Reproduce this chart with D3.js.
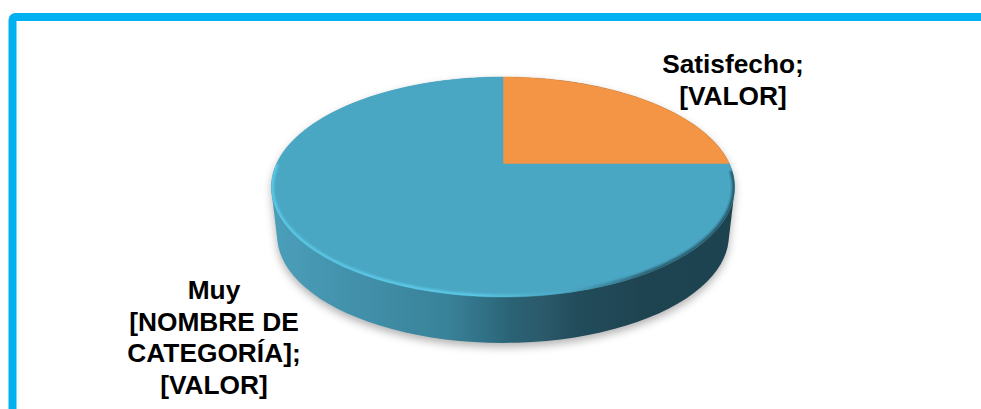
<!DOCTYPE html>
<html lang="es">
<head>
<meta charset="utf-8">
<script src="https://cdn.jsdelivr.net/npm/d3@7"></script>
<style>
  html, body { margin: 0; padding: 0; background: #fff; overflow: hidden; }
  svg { display: block; }
  text { font-family: "Liberation Sans", Arial, sans-serif; font-weight: 700; font-size: 26.3px; fill: #000; text-anchor: middle; }
</style>
</head>
<body>
<script>
// Share of responses per category, clockwise from twelve o'clock
const categories = ["Satisfecho", "Muy satisfecho"];
const shares = [25, 75];
const sliceColors = ["#f39545", "#4aa7c4"];
const labelLines = [
  ["Satisfecho;", "[VALOR]"],
  ["Muy", "[NOMBRE DE", "CATEGORÍA];", "[VALOR]"]
];

const width = 981, height = 409;
const svg = d3.select("body").append("svg").attr("width", width).attr("height", height);
const defs = svg.append("defs");

// Tilted disc: the pie's centre, its top, bottom and side reach, and the wall
const centre = { x: 503, y: 164 };
const reach = { up: 87, down: 133, side: 226.5 };
const discMidY = 187;
const wallDrop = 48.7, wallTaper = 0.975;
const tilt = (reach.down - reach.up) / (reach.down + reach.up);
const lift = reach.up * (1 + tilt);

// Perspective projection of a unit-circle angle (0 = up, clockwise)
function project(angle) {
  const u = Math.sin(angle), v = Math.cos(angle), w = 1 + tilt * v;
  return [centre.x + reach.side * u / w, centre.y - lift * v / w];
}
const sampleArc = (a0, a1) => d3.range(0, 121).map(i => project(a0 + (a1 - a0) * i / 120));
const line = d3.line();

const pie = d3.pie().sort(null).value(d => d)(shares);
const rim = sampleArc(0, 2 * Math.PI);

// The lower rim sits further from the eye, so it is drawn slightly smaller
const lowerRim = rim.map(([x, y]) => [
  centre.x + (x - centre.x) * wallTaper,
  discMidY + (y - discMidY) * wallTaper + wallDrop
]);
const wallPath = line(d3.polygonHull(rim.concat(lowerRim))) + "Z";

// Wall shading runs from light on the left to dark on the right
const wallStops = [
  [0, "#4b9fba"], [0.2, "#418fa9"], [0.38, "#398299"], [0.47, "#2f6e83"],
  [0.52, "#2a6274"], [0.58, "#2b5b6c"], [0.66, "#224c5b"], [0.8, "#1f4451"], [1, "#1e4350"]
];
const wallGrad = defs.append("linearGradient").attr("id", "wall-shade");
wallGrad.selectAll("stop").data(wallStops).join("stop")
  .attr("offset", d => d[0]).attr("stop-color", d => d[1]);

// Bevel highlight fades out along the front of the rim
const bevelGrad = defs.append("linearGradient").attr("id", "bevel-shade");
bevelGrad.selectAll("stop").data([
  [0, "#5cc9e6", 1], [0.45, "#5cc9e6", 1], [0.62, "#4fb0cc", 0.5], [0.8, "#25505f", 0.8], [1, "#25505f", 0.9]
]).join("stop")
  .attr("offset", d => d[0]).attr("stop-color", d => d[1]).attr("stop-opacity", d => d[2]);

defs.append("filter").attr("id", "soft-shadow")
  .attr("x", "-10%").attr("y", "-10%").attr("width", "120%").attr("height", "120%")
  .append("feGaussianBlur").attr("stdDeviation", 4);
defs.append("filter").attr("id", "soft-edge")
  .attr("x", "-5%").attr("y", "-5%").attr("width", "110%").attr("height", "110%")
  .append("feGaussianBlur").attr("stdDeviation", 1.1);
defs.append("clipPath").attr("id", "face-clip")
  .append("path").attr("d", line(rim) + "Z");

// Outer frame, running off the right and bottom of the page
svg.append("rect")
  .attr("x", 12.5).attr("y", 17)
  .attr("width", width + 40).attr("height", height + 40)
  .attr("rx", 3)
  .attr("fill", "none").attr("stroke", "#00b0f0").attr("stroke-width", 8);

// Ground shadow and side wall
svg.append("path").attr("d", wallPath)
  .attr("transform", "translate(0,4)")
  .attr("fill", "#000").attr("fill-opacity", 0.3)
  .attr("filter", "url(#soft-shadow)");
svg.append("path").attr("d", wallPath).attr("fill", "url(#wall-shade)");

// Top face slices
svg.append("g").selectAll("path").data(pie).join("path")
  .attr("d", d => line([[centre.x, centre.y], ...sampleArc(d.startAngle, d.endAngle)]) + "Z")
  .attr("fill", (d, i) => sliceColors[i])
  .attr("stroke", (d, i) => sliceColors[i]).attr("stroke-width", 0.5);

// Rounded lip along the front half of the rim
svg.append("path")
  .attr("d", line(sampleArc(Math.PI * 0.52, Math.PI * 1.5)))
  .attr("fill", "none").attr("stroke", "url(#bevel-shade)")
  .attr("stroke-width", 5)
  .attr("clip-path", "url(#face-clip)")
  .attr("filter", "url(#soft-edge)");

// Data labels
const labelAnchors = [{ x: 733, y: 73 }, { x: 214, y: 299 }];
const lineStep = 31.7;
svg.append("g").selectAll("text")
  .data(labelLines.flatMap((lines, i) => lines.map((t, j) => ({ t, j, a: labelAnchors[i] }))))
  .join("text")
  .attr("x", d => d.a.x)
  .attr("y", d => d.a.y + d.j * lineStep)
  .text(d => d.t);
</script>
</body>
</html>
